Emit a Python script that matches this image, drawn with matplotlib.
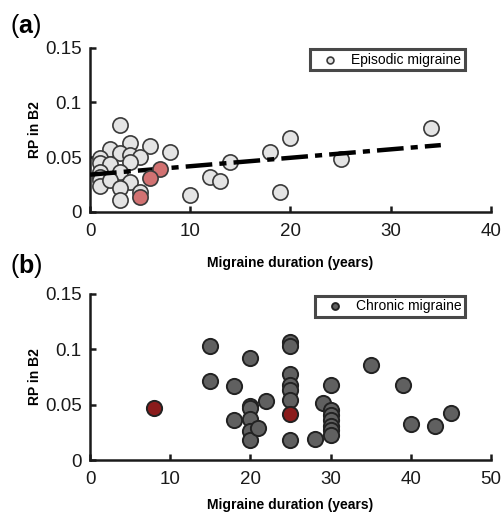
import matplotlib
matplotlib.use('Agg')
import matplotlib.pyplot as plt

plt.rcParams['font.family'] = ['Liberation Sans', 'DejaVu Sans']
plt.rcParams['mathtext.fontset'] = 'custom'
plt.rcParams['mathtext.bf'] = 'Liberation Sans:bold'
plt.rcParams['mathtext.rm'] = 'Liberation Sans'

# (a) episodic migraine
ep_x = [3, 34, 20, 18, 14, 25, 12, 13, 10, 19, 8, 6, 4, 2, 3, 4, 5, 1, 1, 2, 4, 3, 1, 1, 1, 1, 2, 4, 3, 5, 3]
ep_y = [0.079, 0.077, 0.0675, 0.055, 0.046, 0.048, 0.032, 0.028, 0.015, 0.018, 0.055, 0.060, 0.063,
        0.057, 0.054, 0.052, 0.050, 0.049, 0.045, 0.044, 0.046, 0.036, 0.036, 0.032, 0.029, 0.024,
        0.029, 0.027, 0.022, 0.018, 0.011]
ep_red_x = [7, 6, 5]
ep_red_y = [0.039, 0.031, 0.014]
trend_x = [0, 35]
trend_y = [0.034, 0.061]

# (b) chronic migraine
cm_x = [15, 15, 18, 18, 20, 20, 20, 20, 20, 20, 21, 22, 25, 25, 25, 25, 25, 25, 25, 28, 29,
        30, 30, 30, 30, 30, 30, 30, 35, 39, 40, 43, 45]
cm_y = [0.103, 0.071, 0.067, 0.036, 0.092, 0.049, 0.047, 0.037, 0.026, 0.018, 0.029, 0.053,
        0.107, 0.103, 0.078, 0.068, 0.063, 0.054, 0.018, 0.019, 0.052, 0.068, 0.045, 0.041,
        0.036, 0.031, 0.027, 0.023, 0.086, 0.068, 0.033, 0.031, 0.043]
cm_red_x = [8, 25]
cm_red_y = [0.047, 0.042]

yticks = [0, 0.05, 0.1, 0.15]
yticklabels = ['0', '0.05', '0.1', '0.15']

fig = plt.figure(figsize=(5.03, 5.13), dpi=100)
ax1 = fig.add_axes([0.179, 0.587, 0.797, 0.320])
ax2 = fig.add_axes([0.179, 0.103, 0.797, 0.324])


def style(ax, xmax, xticks, xlabelpad):
    ax.set_xlim(0, xmax)
    ax.set_ylim(0, 0.15)
    ax.set_xticks(xticks)
    ax.set_yticks(yticks)
    ax.set_yticklabels(yticklabels)
    for s in ['top', 'right']:
        ax.spines[s].set_visible(False)
    for s in ['left', 'bottom']:
        ax.spines[s].set_linewidth(1.8)
        ax.spines[s].set_color('#1a1a1a')
    ax.tick_params(direction='in', length=4, width=1.8, labelsize=13.5, colors='#1a1a1a')
    ax.tick_params(axis='y', pad=6)
    ax.tick_params(axis='x', pad=8)
    ax.set_xlabel('Migraine duration (years)', fontsize=10, fontweight='bold', labelpad=xlabelpad)
    ax.set_ylabel('RP in B2', fontsize=10, fontweight='bold', labelpad=2)


style(ax1, 40, [0, 10, 20, 30, 40], 11.5)
style(ax2, 50, [0, 10, 20, 30, 40, 50], 7)

ms = 120
ax1.scatter(ep_x, ep_y, s=ms, c='#e4e4e4', edgecolors='#3a3a3a', linewidths=1.2, zorder=3,
            label='Episodic migraine', clip_on=False)
line, = ax1.plot(trend_x, trend_y, color='black', lw=3.2, zorder=4)
line.set_dashes([6, 1.6, 1.6, 1.6])
ax1.scatter(ep_red_x, ep_red_y, s=ms, c='#d27272', edgecolors='#3a3a3a', linewidths=1.2, zorder=5)

ax2.scatter(cm_x, cm_y, s=ms, c='#606060', edgecolors='#222222', linewidths=1.4, zorder=3,
            label='Chronic migraine')
ax2.scatter(cm_red_x, cm_red_y, s=ms, c='#8b1c1c', edgecolors='#222222', linewidths=1.4, zorder=4)

for ax in [ax1, ax2]:
    leg = ax.legend(loc='upper right', bbox_to_anchor=(0.945, 1.015), fontsize=10, markerscale=0.45,
                    frameon=True, fancybox=False, handletextpad=0.3, borderpad=0.25,
                    handlelength=2.4, borderaxespad=0.3)
    leg.get_frame().set_edgecolor('#1a1a1a')
    leg.get_frame().set_linewidth(2.2)

fig.text(0.02, 1 - 12 / 513, r'($\mathbf{a}$)', fontsize=18, va='top')
fig.text(0.02, 1 - 252 / 513, r'($\mathbf{b}$)', fontsize=18, va='top')

fig.savefig('out.png', dpi=100)
